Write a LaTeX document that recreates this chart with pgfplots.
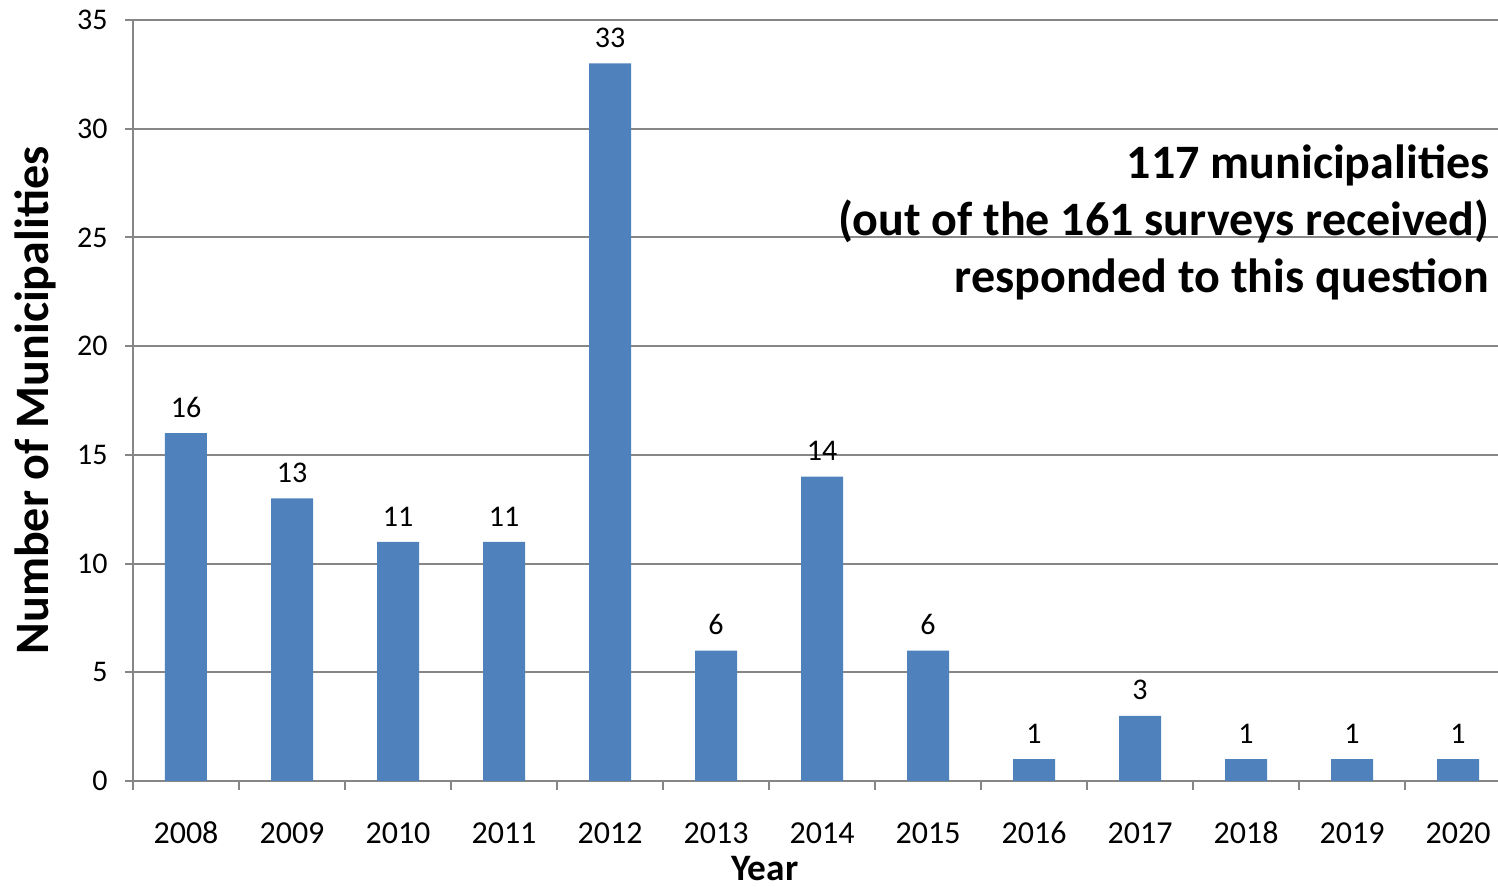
\documentclass[border=0pt]{standalone}
\usepackage{fontspec}
\setmainfont{Carlito}
\usepackage{pgfplots}
\pgfplotsset{compat=1.18}
\usetikzlibrary{calc}

\definecolor{barblue}{HTML}{4F81BD}
\definecolor{axgray}{HTML}{868686}

\pgfplotstableread{
x year count
0 2008 16
1 2009 13
2 2010 11
3 2011 11
4 2012 33
5 2013 6
6 2014 14
7 2015 6
8 2016 1
9 2017 3
10 2018 1
11 2019 1
12 2020 1
}\munis

\begin{document}
\begin{tikzpicture}
\begin{axis}[
    name=ax,
    scale only axis,
    width=409.5pt, height=228.3pt,
    xmin=-0.5, xmax=12.377,
    ymin=0, ymax=35,
    ytick={0,5,...,35},
    xtick={0,...,12},
    xticklabels={2008,2009,2010,2011,2012,2013,2014,2015,2016,2017,2018,2019,2020},
    minor xtick={-0.5,0.5,...,12.5},
    major x tick style={draw=none},
    minor x tick style={axgray, line width=0.6pt},
    minor tick length=2.7pt,
    major tick length=2.4pt,
    tick align=outside,
    ytick style={axgray, line width=0.6pt},
    axis x line*=bottom,
    axis y line*=left,
    axis line style={axgray, line width=0.6pt, -},
    ymajorgrids,
    grid style={axgray, line width=0.6pt},
    /pgf/number format/assume math mode=true,
    xticklabel style={font=\fontsize{9.6}{11}\selectfont, anchor=base, yshift=-16.4pt},
    yticklabel style={font=\fontsize{9}{10}\selectfont, xshift=-1.7pt},
    ylabel={\textbf{Number of Municipalities}},
    every axis y label/.style={at={(rel axis cs:0,0.5)}, xshift=-29.4pt, rotate=90,
        font=\fontsize{14.4}{16}\selectfont},
    xlabel={\textbf{Year}},
    every axis x label/.style={at={(rel axis cs:0.463,0)}, yshift=-26.4pt,
        font=\fontsize{11.2}{13}\selectfont},
    clip=false,
]
\addplot[ybar, bar width=12.6pt, fill=barblue, draw=none,
    nodes near coords,
    every node near coord/.append style={font=\fontsize{9}{10}\selectfont, black, inner sep=0pt, yshift=4.5pt}]
    table[x=x, y=count] {\munis};
\node[anchor=north east, align=right, inner sep=0pt,
      font=\fontsize{14.4}{17.1}\selectfont\bfseries]
    at (rel axis cs:1,0.837) [xshift=-2.4pt]
    {117 municipalities\\(out of the 161 surveys received)\\responded to this question};
\end{axis}
\pgfresetboundingbox
\path ($(ax.south west)+(-39.9pt,-31.8pt)$) rectangle ($(ax.north east)+(0pt,6pt)$);
\end{tikzpicture}
\end{document}
